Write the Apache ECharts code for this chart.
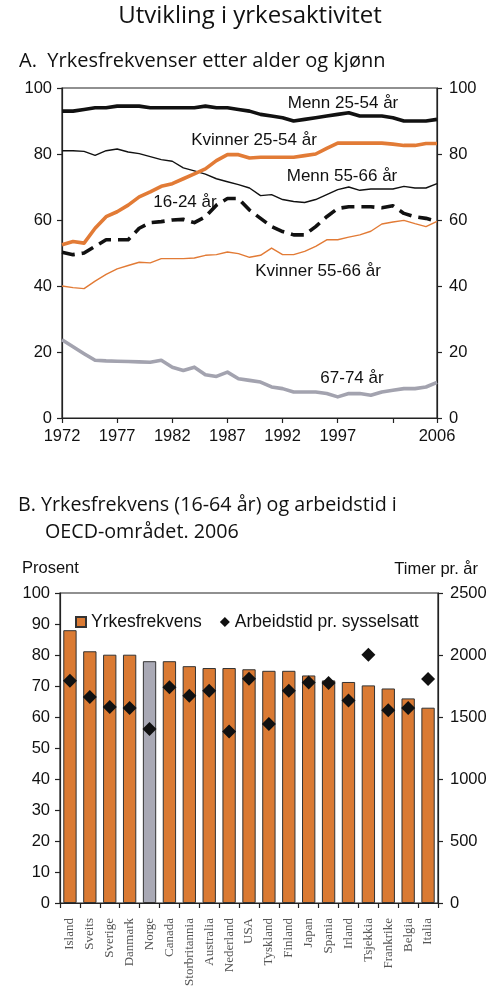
<!DOCTYPE html>
<html>
<head>
<meta charset="utf-8">
<script src="https://cdn.jsdelivr.net/npm/echarts@6/dist/echarts.min.js"></script>
<style>
html,body{margin:0;padding:0;background:#fff;}
#chart{width:500px;height:1005px;}
</style>
</head>
<body>
<div id="chart"></div>
<script>
// ---------- Panel A data ----------
const years = [1972,1973,1974,1975,1976,1977,1978,1979,1980,1981,1982,1983,1984,1985,1986,1987,1988,1989,1990,1991,1992,1993,1994,1995,1996,1997,1998,1999,2000,2001,2002,2003,2004,2005,2006];
const menn2554 = [93,93,93.5,94,94,94.5,94.5,94.5,94,94,94,94,94,94.5,94,94,93.5,93,92,91.5,91,90,90.5,91,91.5,92,92.5,91.5,91.5,91.5,91,90,90,90,90.5];
const kvinner2554 = [52.5,53.5,53,57.5,61,62.5,64.5,67,68.5,70.2,71,72.5,74,75.5,78,79.8,79.8,78.8,79,79,79,79,79.5,80,81.7,83.3,83.3,83.3,83.3,83.3,83,82.6,82.6,83.2,83.2];
const menn5566 = [81,81,80.8,79.6,81,81.5,80.6,80.1,79.2,78.3,77.8,75.8,74.9,73.9,72.5,71.6,70.7,69.7,67.4,67.7,66.2,65.6,65.3,66.2,67.7,69.2,70,69,69.4,69.4,69.4,70.2,69.7,69.7,71];
const ungdom1624 = [50.2,49.5,50,52,54,54,54,57.5,59.2,59.5,60,60.2,59.2,61,64.5,66.5,66.5,63,60.5,58,56.5,55.5,55.5,58,61,63.5,64,64,64,63.7,64.3,62,61,60.5,59.6];
const kvinner5566 = [40,39.5,39.2,41.5,43.5,45.2,46.2,47.2,47,48.3,48.3,48.3,48.5,49.3,49.5,50.3,49.8,48.7,49.3,51.5,49.5,49.5,50.5,52,54,54,54.8,55.5,56.6,58.8,59.4,59.9,58.9,58,59.6];
const eldre6774 = [23.7,21.6,19.5,17.5,17.3,17.2,17.1,17,16.9,17.5,15.4,14.4,15.4,13.1,12.6,13.9,11.9,11.4,10.9,9.4,8.9,7.9,7.9,7.9,7.4,6.4,7.4,7.4,6.9,7.9,8.4,8.9,8.9,9.4,10.8];

// ---------- Panel B data ----------
const countries = ['Island','Sveits','Sverige','Danmark','Norge','Canada','Storbritannia','Australia','Nederland','USA','Tyskland','Finland','Japan','Spania','Irland','Tsjekkia','Frankrike','Belgia','Italia'];
const yrkesfrekvens = [88,81.2,80.1,80.1,78,78,76.4,75.8,75.8,75.4,74.9,74.9,73.4,71.8,71.3,70.2,69.2,66,63];
const arbeidstid = [1793,1662,1581,1573,1404,1739,1672,1712,1384,1809,1444,1712,1779,1774,1634,2002,1554,1573,1807];
const highlight = 'Norge';

const pair = arr => years.map((y, i) => [y, arr[i]]);

const AX = '#222';
const FONT = 'Liberation Sans, Arial, sans-serif';
const TFONT = 'Open Sans, sans-serif';
const ORANGE = '#DA7A33';
const LORANGE = '#E27B36';

const chart = echarts.init(document.getElementById('chart'), null, {renderer: 'canvas'});

function lineSeries(name, arr, color, width, type) {
  return {
    name, type: 'line', xAxisIndex: 0, yAxisIndex: 0, data: pair(arr),
    symbol: 'none', silent: true,
    lineStyle: {color, width, type: type || 'solid', cap: 'butt', join: 'round'}
  };
}

const labelStyle = {fill: '#111', font: '17px ' + FONT, textAlign: 'center', textVerticalAlign: 'middle'};
function txt(x, y, text, extra) {
  return {type: 'text', x, y, style: Object.assign({}, labelStyle, {text}, extra || {})};
}

function valAxis(gridIndex, position, max, interval) {
  return {
    type: 'value', gridIndex, position, min: 0, max, interval,
    axisLine: {show: true, lineStyle: {color: AX, width: 1.2}},
    axisTick: {show: true, length: 5, lineStyle: {color: AX, width: 1.2}},
    axisLabel: {fontFamily: FONT, fontSize: 16.5, color: '#111',
                margin: position === 'right' ? 12 : 10, formatter: v => String(v)},
    splitLine: {show: false}
  };
}

const option = {
  animation: false,
  backgroundColor: '#fff',
  title: [
    {text: 'Utvikling i yrkesaktivitet', left: 'center', top: -1,
     textStyle: {fontFamily: TFONT, fontSize: 24, fontWeight: 'normal', color: '#111'}},
    {text: 'A.  Yrkesfrekvenser etter alder og kjønn', left: 14, top: 46,
     textStyle: {fontFamily: TFONT, fontSize: 20, fontWeight: 'normal', color: '#111'}},
    {text: 'B. Yrkesfrekvens (16-64 år) og arbeidstid i', left: 13, top: 490,
     textStyle: {fontFamily: TFONT, fontSize: 19.7, fontWeight: 'normal', color: '#111'}},
    {text: 'OECD-området. 2006', left: 40, top: 517,
     textStyle: {fontFamily: TFONT, fontSize: 19.7, fontWeight: 'normal', color: '#111'}}
  ],
  grid: [
    {left: 62, top: 88, width: 375, height: 330, show: true, borderColor: AX, borderWidth: 1.2, backgroundColor: 'transparent'},
    {left: 60, top: 593, width: 378, height: 310, show: true, borderColor: AX, borderWidth: 1.2, backgroundColor: 'transparent'}
  ],
  legend: {
    data: [
      {name: 'Yrkesfrekvens', icon: 'rect'},
      {name: 'Arbeidstid pr. sysselsatt', icon: 'diamond'}
    ],
    left: 70, top: 608, itemWidth: 10, itemHeight: 10, itemGap: 18,
    textStyle: {fontFamily: FONT, fontSize: 17.5, color: '#111'},
    selectedMode: false
  },
  xAxis: [
    {type: 'value', gridIndex: 0, min: 1972, max: 2006, interval: 5,
     axisLine: {show: true, lineStyle: {color: AX, width: 1.2}},
     axisTick: {show: true, length: 5, lineStyle: {color: AX, width: 1.2}},
     axisLabel: {fontFamily: FONT, fontSize: 16.5, color: '#111', margin: 10,
                 formatter: v => (v === 2002 ? '' : String(v))},
     splitLine: {show: false}},
    {type: 'category', gridIndex: 1, data: countries,
     axisLine: {show: true, lineStyle: {color: AX, width: 1.2}},
     axisTick: {show: true, interval: 0, length: 5, lineStyle: {color: AX, width: 1.2}},
     axisLabel: {interval: 0, rotate: 90, fontFamily: 'Liberation Serif, serif', fontSize: 13, color: '#555', margin: 15}}
  ],
  yAxis: [
    valAxis(0, 'left', 100, 20),
    valAxis(0, 'right', 100, 20),
    valAxis(1, 'left', 100, 10),
    valAxis(1, 'right', 2500, 500)
  ],
  series: [
    lineSeries('Kvinner 55-66 år', kvinner5566, LORANGE, 1.4),
    lineSeries('Menn 55-66 år', menn5566, '#111', 1.4),
    lineSeries('67-74 år', eldre6774, '#A3A3AF', 3.6),
    lineSeries('16-24 år', ungdom1624, '#111', 3.6, [13, 7]),
    lineSeries('Kvinner 25-54 år', kvinner2554, LORANGE, 3.6),
    lineSeries('Menn 25-54 år', menn2554, '#111', 3.6),
    {
      name: 'Yrkesfrekvens', type: 'bar', xAxisIndex: 1, yAxisIndex: 2,
      barCategoryGap: '33%',
      itemStyle: {color: ORANGE, borderColor: '#333', borderWidth: 1},
      data: countries.map((c, i) => c === highlight
        ? {value: yrkesfrekvens[i], itemStyle: {color: '#A9A9B5'}}
        : yrkesfrekvens[i])
    },
    {
      name: 'Arbeidstid pr. sysselsatt', type: 'scatter', xAxisIndex: 1, yAxisIndex: 3,
      symbol: 'diamond', symbolSize: 14,
      itemStyle: {color: '#111', opacity: 1},
      data: arbeidstid
    }
  ],
  graphic: [
    txt(343, 103, 'Menn 25-54 år'),
    txt(254, 140, 'Kvinner 25-54 år'),
    txt(342, 176, 'Menn 55-66 år'),
    txt(185, 202, '16-24 år'),
    txt(318, 271, 'Kvinner 55-66 år'),
    txt(352, 378, '67-74 år'),
    txt(22, 568, 'Prosent', {textAlign: 'left', font: '16.5px ' + FONT}),
    txt(478, 569, 'Timer pr. år', {textAlign: 'right', font: '16.5px ' + FONT})
  ]
};
chart.setOption(option);
</script>
</body>
</html>
